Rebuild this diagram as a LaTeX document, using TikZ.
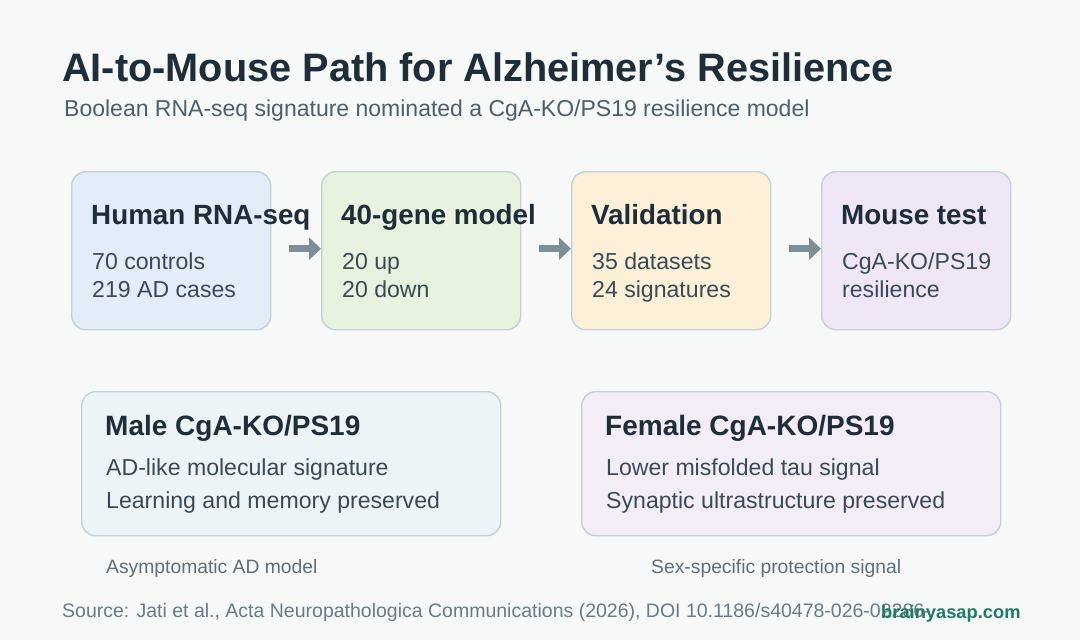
\documentclass[tikz,border=0pt]{standalone}
\usepackage{fontspec}
\setmainfont{Liberation Sans}
\usetikzlibrary{arrows.meta}
\definecolor{bgc}{HTML}{F7F9F8}
\definecolor{titlec}{HTML}{1E2D38}
\definecolor{bodyc}{HTML}{3A4A55}
\definecolor{subc}{HTML}{4F5F6A}
\definecolor{capc}{HTML}{5F6E78}
\definecolor{footc}{HTML}{6B7A84}
\definecolor{tealc}{HTML}{1F7A6A}
\definecolor{edgec}{HTML}{C6D0D8}
\definecolor{arrc}{HTML}{7D8F96}
\definecolor{fa}{HTML}{E3EDF7}
\definecolor{fb}{HTML}{E7F2DF}
\definecolor{fc}{HTML}{FDF0D8}
\definecolor{fd}{HTML}{EFE7F6}
\definecolor{fe}{HTML}{EDF4F8}
\definecolor{ff}{HTML}{F3EDF8}
\tikzset{
  card/.style={draw=edgec, line width=1.4pt, rounded corners=14pt, inner sep=0pt, anchor=north west},
  txt/.style={anchor=base west, inner sep=0pt},
  hd/.style={txt, text=titlec, font=\fontsize{27.8}{32}\selectfont\bfseries},
  hdb/.style={txt, text=titlec, font=\fontsize{28}{33}\selectfont\bfseries},
  bd/.style={txt, text=bodyc, font=\fontsize{23.1}{27}\selectfont},
  captxt/.style={txt, text=capc, font=\fontsize{19.3}{23}\selectfont},
  flow/.style={draw=arrc, line width=6.5pt, -{Triangle[length=12pt,width=22pt]}},
}
\begin{document}
\begin{tikzpicture}[x=1pt,y=-1pt]
\fill[bgc] (0,0) rectangle (1080,640);
\useasboundingbox (0,0) rectangle (1080,640);
% title
\node[txt, text=titlec, font=\fontsize{39.7}{46}\selectfont\bfseries] (title) at (62,81) {AI-to-Mouse Path for Alzheimer’s Resilience};
\node[txt, text=subc, font=\fontsize{23}{27}\selectfont] (sub) at (64,116) {Boolean RNA-seq signature nominated a CgA-KO/PS19 resilience model};
% top cards
\node[card, fill=fa, minimum width=199pt, minimum height=158pt] (b1) at (71,171) {};
\node[card, fill=fb, minimum width=199pt, minimum height=158pt] (b2) at (321,171) {};
\node[card, fill=fc, minimum width=199pt, minimum height=158pt] (b3) at (571,171) {};
\node[card, fill=fd, minimum width=189pt, minimum height=158pt] (b4) at (821,171) {};
\node[hd] (t1) at (91,224) {Human RNA-seq};
\node[bd] (l1a) at (92,269) {70 controls};
\node[bd] (l1b) at (92,297) {219 AD cases};
\node[hd] (t2) at (341,224) {40-gene model};
\node[bd] (l2a) at (342,269) {20 up};
\node[bd] (l2b) at (342,297) {20 down};
\node[hd] (t3) at (591,224) {Validation};
\node[bd] (l3a) at (592,269) {35 datasets};
\node[bd] (l3b) at (592,297) {24 signatures};
\node[hd] (t4) at (841,224) {Mouse test};
\node[bd] (l4a) at (842,269) {CgA-KO/PS19};
\node[bd] (l4b) at (842,297) {resilience};
% arrows
\draw[flow] ([xshift=18pt,yshift=2pt]b1.east) -- ([yshift=2pt]b2.west);
\draw[flow] ([xshift=18pt,yshift=2pt]b2.east) -- ([yshift=2pt]b3.west);
\draw[flow] ([xshift=18pt,yshift=2pt]b3.east) -- ([yshift=2pt]b4.west);
% bottom cards
\node[card, fill=fe, minimum width=419pt, minimum height=144pt] (b5) at (81,391) {};
\node[card, fill=ff, minimum width=419pt, minimum height=144pt] (b6) at (581,391) {};
\node[hdb] (t5) at (105,435) {Male CgA-KO/PS19};
\node[bd] (l5a) at (106,475) {AD-like molecular signature};
\node[bd] (l5b) at (106,508) {Learning and memory preserved};
\node[hdb] (t6) at (605,435) {Female CgA-KO/PS19};
\node[bd] (l6a) at (606,475) {Lower misfolded tau signal};
\node[bd] (l6b) at (606,508) {Synaptic ultrastructure preserved};
\node[captxt] (c5) at (106,573) {Asymptomatic AD model};
\node[captxt] (c6) at (651,573) {Sex-specific protection signal};
% footer
\node[txt, text=footc, font=\fontsize{19.5}{23}\selectfont] (src) at (62,617) {Source: Jati et al., Acta Neuropathologica Communications (2026), DOI 10.1186/s40478-026-02286-};
\node[txt, text=tealc, font=\fontsize{18.3}{22}\selectfont\bfseries] (brand) at (881,618) {brainyasap.com};
\end{tikzpicture}
\end{document}
